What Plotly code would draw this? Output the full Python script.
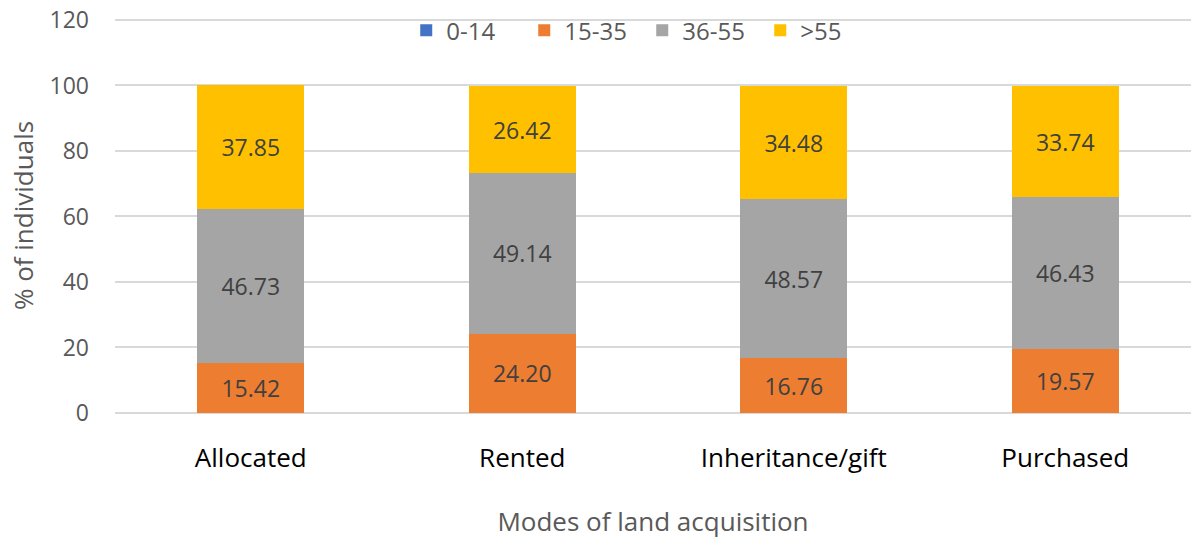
import plotly.graph_objects as go

categories = ["Allocated", "Rented", "Inheritance/gift", "Purchased"]
series_names = ["0-14", "15-35", "36-55", ">55"]
v_0_14 = [0, 0, 0, 0]
v_15_35 = [15.42, 24.20, 16.76, 19.57]
v_36_55 = [46.73, 49.14, 48.57, 46.43]
v_55p = [37.85, 26.42, 34.48, 33.74]
y_ticks = [0, 20, 40, 60, 80, 100, 120]

colors = ["#4472C4", "#ED7D31", "#A5A5A5", "#FFC000"]
FONT = "Open Sans"

fig = go.Figure()
for name, vals, col in zip(series_names, [v_0_14, v_15_35, v_36_55, v_55p], colors):
    texts = ["" if v == 0 else f"{v:.2f}" for v in vals]
    fig.add_trace(go.Bar(
        x=categories, y=vals, name=name, marker=dict(color=col, line=dict(width=0)),
        text=texts, textposition="inside", insidetextanchor="middle",
        textfont=dict(family=FONT, size=23, color="#404040"),
        textangle=0, cliponaxis=False,
    ))

fig.update_layout(
    barmode="stack",
    width=1191, height=539,
    margin=dict(l=115, r=0, t=18, b=126, autoexpand=False),
    paper_bgcolor="white", plot_bgcolor="white",
    bargap=0.606,
    font=dict(family=FONT),
    legend=dict(orientation="h", x=0.49, xanchor="center", y=1.025, yanchor="top",
                traceorder="normal", entrywidth=73, entrywidthmode="pixels",
                font=dict(family=FONT, size=24, color="#595959"),
                itemwidth=30, bgcolor="rgba(0,0,0,0)"),
    xaxis=dict(range=[-0.5, 3.463], showgrid=False, zeroline=False, showline=False, automargin=True,
               tickfont=dict(family=FONT, size=26, color="#000000"), ticks="",
               ticklabelstandoff=27,
               title=dict(text="Modes of land acquisition", font=dict(family=FONT, size=26, color="#595959"),
                          standoff=42)),
    yaxis=dict(range=[0, 120.6], tickvals=y_ticks, showgrid=True, gridcolor="#D9D9D9", gridwidth=2,
               zeroline=True, zerolinecolor="#D9D9D9", zerolinewidth=2, showline=False, automargin=False,
               tickfont=dict(family=FONT, size=23, color="#595959"), ticks="",
               ticklabelstandoff=25,
               title=dict(text="% of individuals", font=dict(family=FONT, size=26, color="#595959"),
                          standoff=8)),
)

fig.write_html("out.html", post_script="document.body.style.margin='0px';",
               config={"displayModeBar": False})
